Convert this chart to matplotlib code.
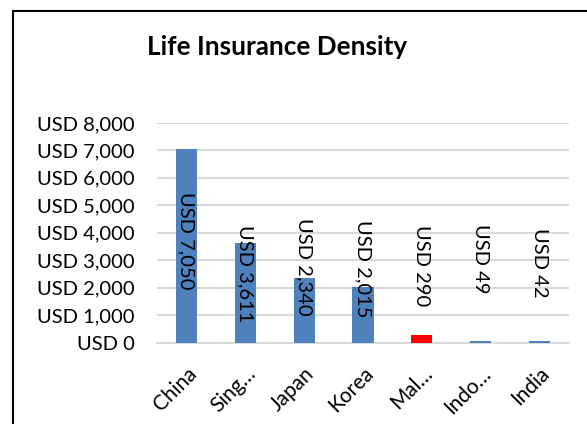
import matplotlib.pyplot as plt
from matplotlib.lines import Line2D

countries = ['China', 'Sing…', 'Japan', 'Korea', 'Mal…', 'Indo…', 'India']
density = [7050, 3611, 2340, 2015, 290, 49, 42]
bar_colors = ['#4F81BD', '#4F81BD', '#4F81BD', '#4F81BD', '#FF0000', '#4F81BD', '#4F81BD']
yticks = [0, 1000, 2000, 3000, 4000, 5000, 6000, 7000, 8000]

# where the rotated value labels start (top edge), as excel placed them
label_top = [5485, 4282, 4537, 4465, 4282, 4319, 4173]

plt.rcParams['font.family'] = ['Lato', 'DejaVu Sans']

fig = plt.figure(figsize=(5.87, 4.24), dpi=100)
W, H = 587, 424
ax = fig.add_axes([157 / W, 1 - 342.5 / H, 412 / W, 219.5 / H])

x = range(len(countries))
ax.bar(x, density, width=0.36, color=bar_colors, zorder=3)

for i, v in enumerate(density):
    ax.text(i, label_top[i], 'USD {:,}'.format(v), rotation=270,
            ha='center', va='top', fontsize=14.5, color='black', zorder=4)

ax.set_xlim(-0.5, len(countries) - 0.5)
ax.set_ylim(0, 8000)
ax.set_yticks(yticks)
ax.set_yticklabels(['USD {:,}'.format(t) for t in yticks], fontsize=14.5)
ax.set_xticks(list(x))
ax.set_xticklabels(countries, rotation=45, ha='right', rotation_mode='anchor', fontsize=15)
ax.tick_params(axis='both', length=0)
ax.tick_params(axis='y', pad=16)
ax.tick_params(axis='x', pad=15)
ax.grid(axis='y', color='#D9D9D9', linewidth=1.5, zorder=0)

for s in ['top', 'right', 'left']:
    ax.spines[s].set_visible(False)
ax.spines['bottom'].set_color('#D9D9D9')
ax.spines['bottom'].set_linewidth(1.5)

fig.text(277.5 / W, 1 - 47 / H, 'Life Insurance Density', ha='center', va='center',
         fontsize=18.8, fontweight='bold')

# chart frame (only left and top edge fall inside the crop)
fig.add_artist(Line2D([12.5 / W, 12.5 / W], [0, 1 - 11 / H], color='black', linewidth=1.5))
fig.add_artist(Line2D([12.5 / W, 1], [1 - 11 / H, 1 - 11 / H], color='black', linewidth=1.5))

fig.savefig('out.png', dpi=100)
